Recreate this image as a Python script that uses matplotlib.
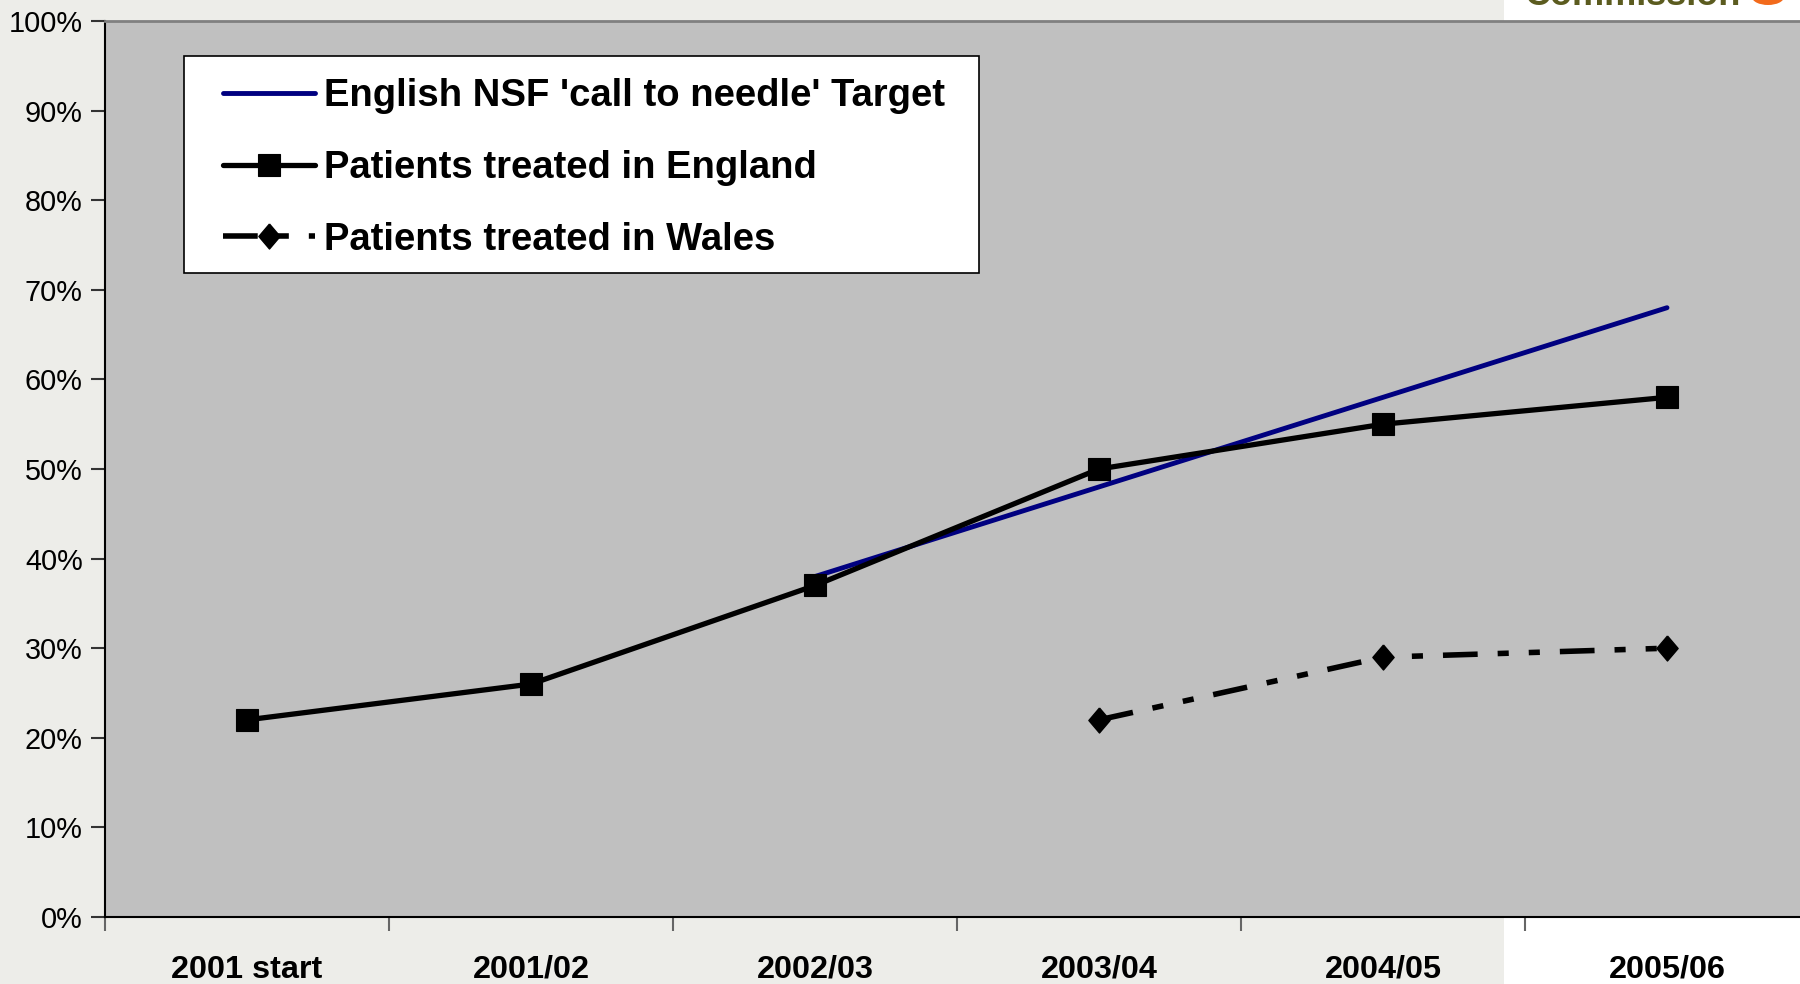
import numpy as np
import matplotlib
matplotlib.use("Agg")
import matplotlib.pyplot as plt
from matplotlib.patches import Rectangle, Ellipse

plt.rcParams['font.family'] = ['Liberation Sans', 'DejaVu Sans']
plt.rcParams['lines.scale_dashes'] = False

# ---- data ----
categories = ['2001 start', '2001/02', '2002/03', '2003/04', '2004/05', '2005/06']
england = [22, 26, 37, 50, 55, 58]
target_cats = ['2002/03', '2003/04', '2004/05', '2005/06']
target = [38, 48, 58, 68]
wales_cats = ['2003/04', '2004/05', '2005/06']
wales = [22, 29, 30]
yticks = list(range(0, 101, 10))
ylabels = [f'{v}%' for v in yticks]
series_labels = ["English NSF 'call to needle' Target",
                 "Patients treated in England",
                 "Patients treated in Wales"]

W, H = 1800, 984
fig = plt.figure(figsize=(W / 100, H / 100), dpi=100)
fig.patch.set_facecolor('#EDEDE9')
# white panel on the right
fig.patches.append(Rectangle((1504 / W, 0), 1 - 1504 / W, 1, transform=fig.transFigure,
                             facecolor='white', edgecolor='none', zorder=-5))

ax = fig.add_axes([105 / W, 1 - 917 / H, 1704 / W, 896 / H])
ax.set_facecolor('#C0C0C0')

pos = {c: i for i, c in enumerate(categories)}
x_eng = [pos[c] for c in categories]
x_tar = [pos[c] for c in target_cats]
x_wal = [pos[c] for c in wales_cats]

l_tar, = ax.plot(x_tar, target, color='#000080', lw=3.5, solid_capstyle='round', zorder=3)
l_eng, = ax.plot(x_eng, england, color='black', lw=3.8, marker='s', ms=16, mew=0.8,
                 mfc='black', mec='black', solid_capstyle='round', zorder=4)
diamond = [(0, 1), (0.85, 0), (0, -1), (-0.85, 0), (0, 1)]
l_wal, = ax.plot(x_wal, wales, color='black', lw=4, marker=diamond, ms=18,
                 mfc='black', mec='black', dash_capstyle='butt',
                 linestyle=(0, (25, 14.4, 8, 14.4, 8, 14.4)), zorder=4)

ax.set_xlim(-0.5, 5.5)
ax.set_ylim(0, 100)

ax.set_xticks(np.arange(-0.5, 6, 1))
ax.set_xticklabels([])
ax.set_xticks(np.arange(len(categories)), minor=True)
ax.set_xticklabels(categories, minor=True, fontsize=23.3, fontweight='bold')
ax.tick_params(axis='x', which='major', length=10, width=1.5, color='#666666', direction='out')
ax.tick_params(axis='x', which='minor', length=0, pad=27)

ax.set_yticks(yticks)
ax.set_yticklabels(ylabels, fontsize=20.8)
ax.tick_params(axis='y', length=10, width=1.5, color='#333333', pad=6, direction='out')

for s in ['left', 'bottom']:
    ax.spines[s].set_color('black')
    ax.spines[s].set_linewidth(1.5)
ax.spines['top'].set_color('#808080')
ax.spines['top'].set_linewidth(2)
ax.spines['right'].set_visible(False)

# legend box
x0 = (184 - 105) / 1704
x1 = (979 - 105) / 1704
y1 = (917 - 56) / 896
y0 = (917 - 273) / 896
ax.add_patch(Rectangle((x0, y0), x1 - x0, y1 - y0, transform=ax.transAxes,
                       facecolor='white', edgecolor='black', lw=1.2, zorder=6))
leg = ax.legend([l_tar, l_eng, l_wal], series_labels, loc='upper left',
                bbox_to_anchor=((223 - 105) / 1704, (917 - 78) / 896),
                frameon=False, borderpad=0, borderaxespad=0, handlelength=2.4,
                handletextpad=0.24, labelspacing=0.94, numpoints=1,
                prop={'weight': 'bold', 'size': 27.5})
leg.set_zorder(7)

# logo fragment at the top right
fig.text(1525 / W, 1 - 5 / H, 'Commission', ha='left', va='baseline', fontsize=26,
         fontweight='bold', color='#5B5B1F')
fig.patches.append(Ellipse((1768 / W, 1 + 3 / H), 32 / W, 16 / H, transform=fig.transFigure,
                           facecolor='#F26A1B', edgecolor='none'))

fig.savefig('out.png', dpi=100, facecolor=fig.get_facecolor())
